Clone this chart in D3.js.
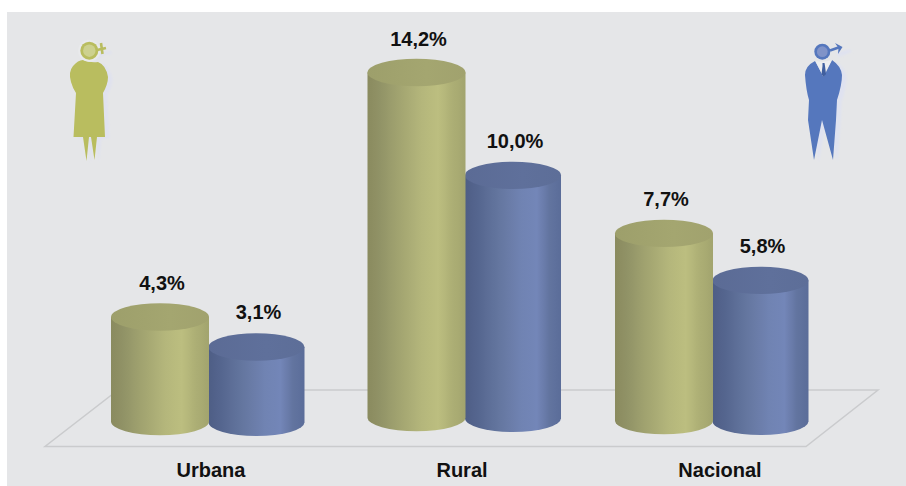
<!DOCTYPE html>
<html><head><meta charset="utf-8">
<script src="https://cdn.jsdelivr.net/npm/d3@7/dist/d3.min.js"></script>
<style>html,body{margin:0;background:#fff}svg{display:block}text{font-family:"Liberation Sans Narrow","Liberation Sans",Arial,sans-serif;font-weight:700;fill:#111;text-anchor:middle}</style>
</head><body><svg id="c" width="906" height="486"></svg>
<script>
const categories = ["Urbana","Rural","Nacional"];
const series = ["Mujeres","Hombres"];
const mujeres = [4.3,14.2,7.7];
const hombres = [3.1,10.0,5.8];
const labelFmt = v => d3.format(".1f")(v).replace(".",",")+"%";

const W=906,H=486;
const svg=d3.select("#c");
const defs=svg.append("defs");
// scales
const catX=d3.scaleOrdinal(categories,[208.5,465,712.5]);
const catLabelX=d3.scaleOrdinal(categories,[211,462,720]);
const base=d3.scaleOrdinal(categories,[421.5,417.5,420.5]);
const h=d3.scaleLinear().domain([0,14.2]).range([0,345]);
const off=d3.scaleOrdinal(series,[-48.5,48]);
const rx=d3.scaleOrdinal(series,[49,48]);
const ry=13.7;

// gradients with fine vertical banding
const ramps={
 Mujeres:{stops:[[0,"#8a8b5f"],[.12,"#909266"],[.3,"#a0a26f"],[.55,"#b4b67b"],[.72,"#bcbe80"],[.86,"#adaf75"],[1,"#a2a46e"]],top:"#a4a670"},
 Hombres:{stops:[[0,"#4e5e85"],[.15,"#566790"],[.35,"#64769f"],[.58,"#7083b2"],[.75,"#7386b8"],[.88,"#62749f"],[1,"#5b6d99"]],top:"#5f709b"}
};
const bandOffsets=[.04,.09,.14,.18,.23,.28,.34,.39,.44,.5,.57,.63,.7,.74,.79,.83,.87,.9,.93,.96];
series.forEach(s=>{
  const col=d3.scaleLinear().domain(ramps[s].stops.map(d=>d[0])).range(ramps[s].stops.map(d=>d[1]));
  const g=defs.append("linearGradient").attr("id","g"+s);
  ramps[s].stops.concat(bandOffsets.map(o=>[o,col(o)])).map(d=>d[0]).sort((a,b)=>a-b).forEach(o=>g.append("stop").attr("offset",o).attr("stop-color",col(o)));
  const st=defs.append("linearGradient").attr("id","t"+s).attr("x1",0).attr("x2",1);
  st.append("stop").attr("offset",0).attr("stop-color",d3.color(ramps[s].top).darker(.12));
  st.append("stop").attr("offset",.6).attr("stop-color",ramps[s].top);
  st.append("stop").attr("offset",1).attr("stop-color",d3.color(ramps[s].top).darker(.06));
});
defs.append("filter").attr("id","soft").append("feGaussianBlur").attr("stdDeviation",1.2);
defs.append("filter").attr("id","edge").append("feGaussianBlur").attr("stdDeviation",.35);

// panel
svg.append("rect").attr("x",7).attr("y",12).attr("width",W-7).attr("height",H-12).attr("fill","#e5e6e8");
// floor
svg.append("path").attr("d",d3.line()([[118,390],[878,390],[806,446.5],[45,446.5]])+"Z")
  .attr("fill","none").attr("stroke","#cacbcd").attr("stroke-width",1.5);

// cylinders
function cyl(s,vals){
  const G=svg.append("g").selectAll("g").data(categories.map((c,i)=>({c,v:vals[i]}))).join("g");
  G.append("path").attr("d",d=>{
    const x=catX(d.c)+off(s),r=rx(s),b=base(d.c)+(s==="Hombres"?.8:0),t=b-h(d.v);
    return `M${x-r},${t}V${b}A${r},${ry} 0 0 0 ${x+r},${b}V${t}Z`;
  }).attr("fill",`url(#g${s})`);
  G.append("ellipse").attr("cx",d=>catX(d.c)+off(s)).attr("cy",d=>base(d.c)+(s==="Hombres"?.8:0)-h(d.v))
    .attr("rx",rx(s)).attr("ry",ry).attr("fill",`url(#t${s})`);
  G.append("text").attr("x",d=>catX(d.c)+off(s)+2).attr("y",d=>base(d.c)-h(d.v)-27)
    .attr("font-size",20).text(d=>labelFmt(d.v));
}
// blue first so the olive overlaps, as in the reference
cyl("Hombres",hombres);
cyl("Mujeres",mujeres);

// category labels
svg.append("g").selectAll("text").data(categories).join("text")
  .attr("x",d=>catLabelX(d)).attr("y",477).attr("font-size",20).text(d=>d);

// decorative icons
const woman="M83,60 Q78,60 73,66 Q68,72 71,82 Q73,89 76,93 L73.5,137 L83,137 L86.5,161 L89,137 L91,137 L94.5,160 L97,137 L105,137 L103,93 Q108,84 108,77 Q106,65 98,62 Q90,63 83,60Z";
const manBody="M815,61 Q805,66 805,75 Q806,90 809,100 L808,120 L814,160 L822,120 L833,160 L836,120 L837,100 Q842,85 842,75 Q841,66 832,60 L823,76Z";
function icon(body,color,inner,shadow,draw){
  const g=svg.append("g");
  const sh=g.append("g").attr("transform","translate(4.5,2)").attr("filter","url(#soft)").attr("fill",shadow);
  sh.append("path").attr("d",body);
  const m=g.append("g").attr("filter","url(#edge)");
  m.append("path").attr("d",body).attr("fill",color);
  draw(m,sh);
}
icon(woman,"#b9bd5f","#cdd18f","#e0e2ee",(m,sh)=>{
  sh.append("circle").attr("cx",90).attr("cy",50).attr("r",9);
  sh.append("path").attr("d","M98,50L107,49V52L98,53Z");
  m.append("circle").attr("cx",89.3).attr("cy",50.7).attr("r",11).attr("fill","#e9eaec");
  m.append("circle").attr("cx",89.3).attr("cy",50.7).attr("r",9).attr("fill","#b9bd5f");
  m.append("circle").attr("cx",89.3).attr("cy",50.7).attr("r",6.2).attr("fill","#cdd18f");
  m.append("path").attr("d","M97,50L106,48M101,43L102.5,54").attr("stroke","#b9bd5f").attr("stroke-width",2.6).attr("fill","none");
});
icon(manBody,"#5577bd","#8093c8","#dfe2f0",(m,sh)=>{
  sh.append("path").attr("d","M832,51L845,47L847,50L834,55Z");
  m.append("path").attr("d","M815.5,61 L823.5,77 L832,60 Q824,63 815.5,61Z").attr("fill","#edeef0");
  m.append("path").attr("d","M822.5,63H824.5L825,66L826,74L823.5,77L821.5,74L822.5,66Z").attr("fill","#3f5f9f");
  m.append("circle").attr("cx",822.3).attr("cy",51.7).attr("r",8).attr("fill","#5577bd");
  m.append("circle").attr("cx",822.3).attr("cy",51.7).attr("r",5.4).attr("fill","#8093c8");
  m.append("path").attr("d","M830,50.5L840,47").attr("stroke","#5577bd").attr("stroke-width",2.6);
  m.append("path").attr("d","M835,43L842.5,47L838,54L838.5,48Z").attr("fill","#5577bd");
});
</script></body></html>
